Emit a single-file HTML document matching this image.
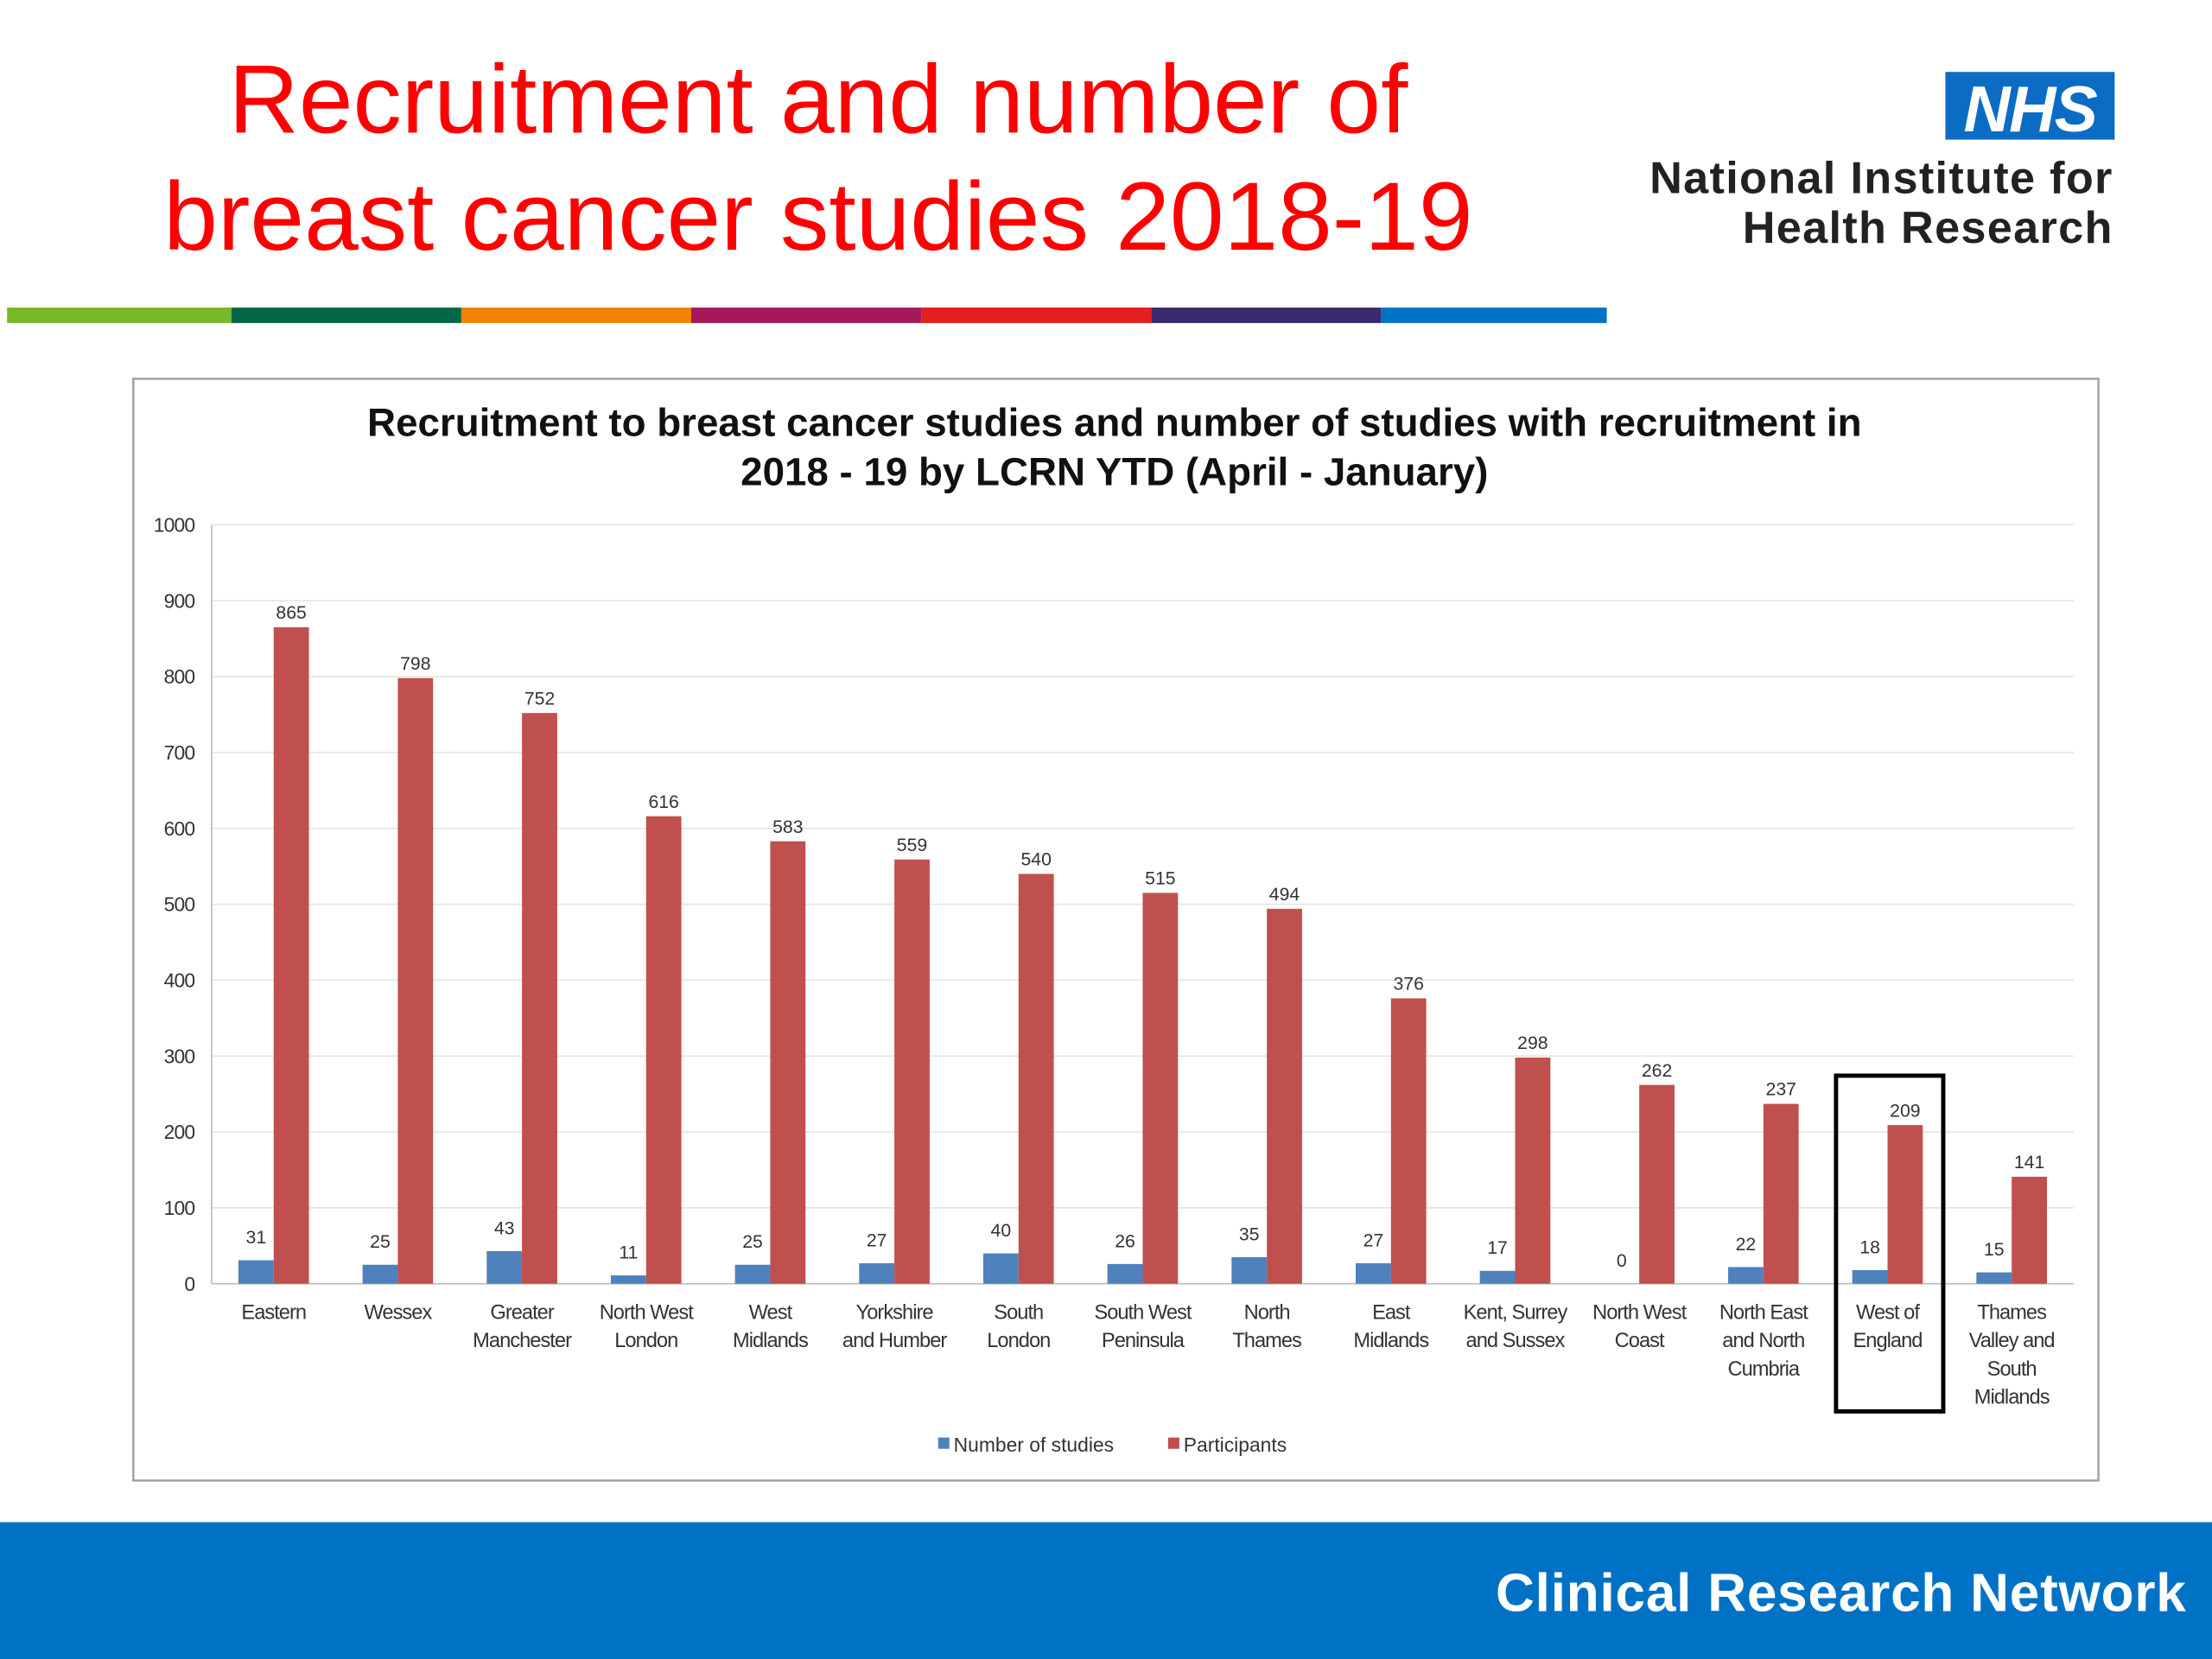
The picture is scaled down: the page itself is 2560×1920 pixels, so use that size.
<!DOCTYPE html>
<html><head><meta charset="utf-8"><style>
html,body{margin:0;padding:0;background:#fff;}
svg{display:block;font-family:"Liberation Sans",sans-serif;}
</style></head><body>
<svg id="slide" width="2560" height="1920" viewBox="0 0 1568 1176" xmlns="http://www.w3.org/2000/svg">
<text x="580" y="94" text-anchor="middle" font-size="69" fill="#ff0000">Recruitment and number of</text>
<text x="580" y="177" text-anchor="middle" font-size="69" fill="#ff0000">breast cancer studies 2018-19</text>
<g>
<rect x="5" y="218" width="159" height="11" fill="#78b928"/>
<rect x="164" y="218" width="163" height="11" fill="#006747"/>
<rect x="327" y="218" width="163" height="11" fill="#f08300"/>
<rect x="490" y="218" width="163" height="11" fill="#a3195b"/>
<rect x="653" y="218" width="163" height="11" fill="#e3201b"/>
<rect x="816" y="218" width="163" height="11" fill="#3c2a6e"/>
<rect x="979" y="218" width="160" height="11" fill="#0072c6"/>
</g>
<g>
<rect x="1379" y="51" width="120" height="48" fill="#0b6cc4"/>
<text x="1439" y="93" text-anchor="middle" font-size="46" font-weight="bold" font-style="italic" fill="#fff" letter-spacing="-1">NHS</text>
<text x="1498" y="137" text-anchor="end" font-size="32" font-weight="bold" fill="#222" letter-spacing="0.8">National Institute for</text>
<text x="1498" y="172" text-anchor="end" font-size="32" font-weight="bold" fill="#222" letter-spacing="0.8">Health Research</text>
</g>
<rect x="94.5" y="268.5" width="1393" height="781" fill="#fff" stroke="#a0a0a0" stroke-width="1.5"/>
<text x="790" y="309" text-anchor="middle" font-size="28" font-weight="bold" fill="#111">Recruitment to breast cancer studies and number of studies with recruitment in</text>
<text x="790" y="344" text-anchor="middle" font-size="28" font-weight="bold" fill="#111">2018 - 19 by LCRN YTD (April - January)</text>
<g id="plot"></g>
<rect x="1301.5" y="762.5" width="76" height="238" fill="none" stroke="#000" stroke-width="3"/>
<g>
<rect x="665" y="1019" width="8" height="8" fill="#4f81bd"/>
<text x="676" y="1029" font-size="14" fill="#333">Number of studies</text>
<rect x="828" y="1019" width="8" height="8" fill="#c0504d"/>
<text x="839" y="1029" font-size="14" fill="#333">Participants</text>
</g>
<rect x="0" y="1079" width="1568" height="97" fill="#0072c6"/>
<text x="1550" y="1142" text-anchor="end" font-size="38" font-weight="bold" fill="#fff" letter-spacing="0.5">Clinical Research Network</text>
</svg>
<script>
const categories = [["Eastern"],["Wessex"],["Greater","Manchester"],["North West","London"],["West","Midlands"],["Yorkshire","and Humber"],["South","London"],["South West","Peninsula"],["North","Thames"],["East","Midlands"],["Kent, Surrey","and Sussex"],["North West","Coast"],["North East","and North","Cumbria"],["West of","England"],["Thames","Valley and","South","Midlands"]];
const studies = [31,25,43,11,25,27,40,26,35,27,17,0,22,18,15];
const participants = [865,798,752,616,583,559,540,515,494,376,298,262,237,209,141];
const yTicks = [0,100,200,300,400,500,600,700,800,900,1000];

const NS = "http://www.w3.org/2000/svg";
const plot = document.getElementById('plot');
const x0 = 150, x1 = 1470, yBase = 910, yTop = 372, yMax = 1000;
const y = v => yBase - v / yMax * (yBase - yTop);
const band = (x1 - x0) / categories.length;
const cx = i => x0 + band * (i + 0.5);
function mk(tag, attrs, txt) {
  const e = document.createElementNS(NS, tag);
  for (const k in attrs) e.setAttribute(k, attrs[k]);
  if (txt !== undefined) e.textContent = txt;
  plot.appendChild(e);
  return e;
}
yTicks.forEach(t => {
  const g = mk('line', {x1: x0, x2: x1, y1: y(t), y2: y(t), stroke: t === 0 ? '#bbb' : '#e4e4e4', 'stroke-width': 1});
  
  
  const l = mk('text', {x: 138, y: y(t) + 5, 'text-anchor': 'end', 'font-size': 14, fill: '#333', 'letter-spacing': '-0.5'}, t);
  
  
});
const ax = mk('line', {x1: x0, x2: x0, y1: yTop, y2: yBase, stroke: '#bbb', 'stroke-width': 1});


const bw = 25;
categories.forEach((c, i) => {
  const c0 = cx(i);
  const b1 = mk('rect', {x: c0 - bw, y: y(studies[i]), width: bw, height: yBase - y(studies[i]), fill: '#4f81bd'});
  
  
  const t1 = mk('text', {x: c0 - bw / 2, y: y(studies[i]) - 12, 'text-anchor': 'middle', 'font-size': 13, fill: '#333'}, studies[i]);
  
  
  const b2 = mk('rect', {x: c0, y: y(participants[i]), width: bw, height: yBase - y(participants[i]), fill: '#c0504d'});
  
  
  const t2 = mk('text', {x: c0 + bw / 2, y: y(participants[i]) - 6, 'text-anchor': 'middle', 'font-size': 13, fill: '#333'}, participants[i]);
  
  
  c.forEach((line, j) => {
    const t = mk('text', {x: c0, y: 935 + j * 20, 'text-anchor': 'middle', 'font-size': 14.5, fill: '#333', 'letter-spacing': '-0.6'}, line);
    
    
  });
});
</script>
</body></html>
